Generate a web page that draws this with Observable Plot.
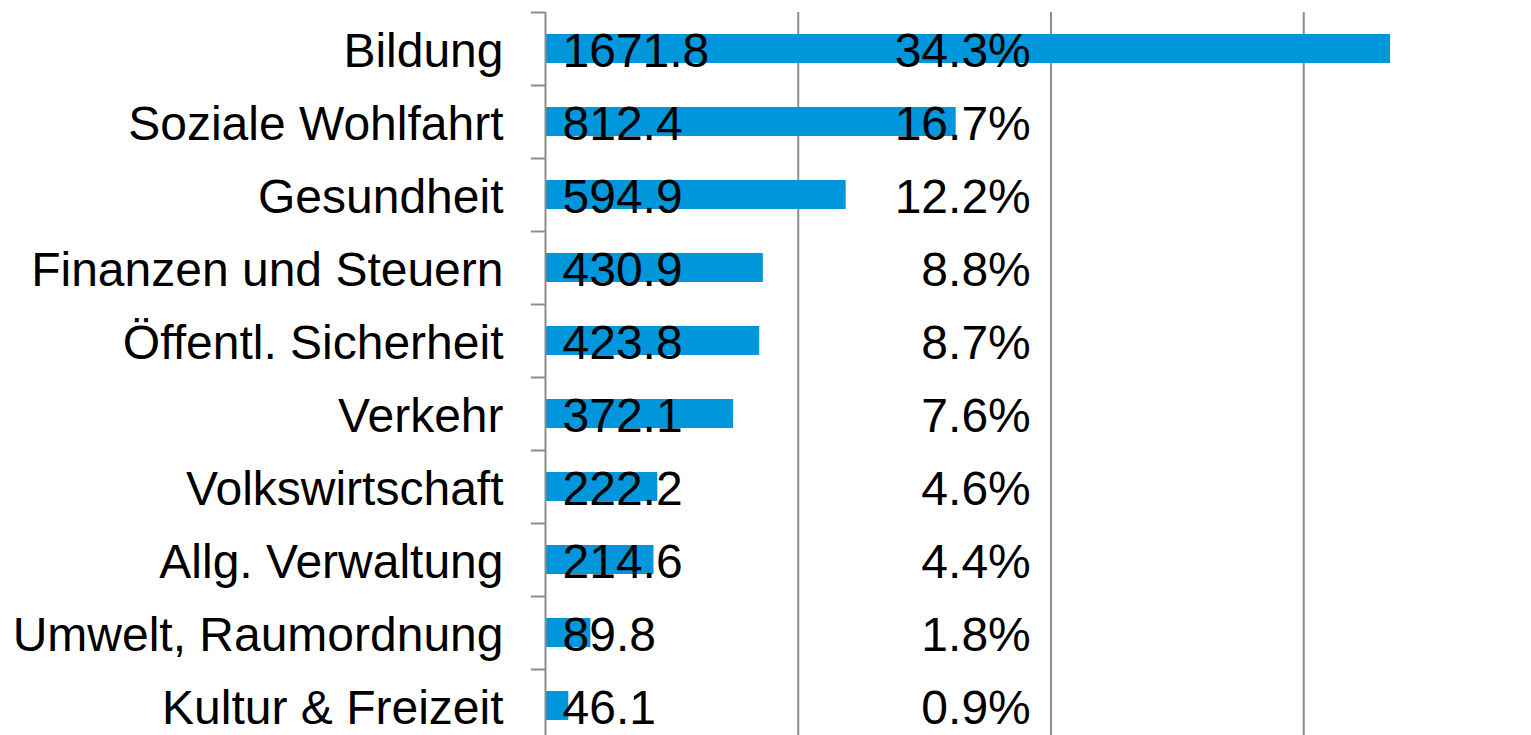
<!DOCTYPE html>
<html>
<head>
<meta charset="utf-8">
<script src="https://cdn.jsdelivr.net/npm/d3@7"></script>
<script src="https://cdn.jsdelivr.net/npm/@observablehq/plot@0.6"></script>
<style>
  html, body { margin: 0; padding: 0; background: #fff; }
  #chart svg { display: block; }
</style>
</head>
<body>
<div id="chart"></div>
<script>
const categories = ["Bildung", "Soziale Wohlfahrt", "Gesundheit", "Finanzen und Steuern", "Öffentl. Sicherheit", "Verkehr", "Volkswirtschaft", "Allg. Verwaltung", "Umwelt, Raumordnung", "Kultur & Freizeit"];
const values = [1671.8, 812.4, 594.9, 430.9, 423.8, 372.1, 222.2, 214.6, 89.8, 46.1];
const shares = [34.3, 16.7, 12.2, 8.8, 8.7, 7.6, 4.6, 4.4, 1.8, 0.9];
const xTicks = [500, 1000, 1500];

const data = categories.map((cat, i) => ({cat, value: values[i], share: shares[i]}));

const font = "'Liberation Sans', Arial, Helvetica, sans-serif";
const grey = "#8c8c8c";
const pctX = 960;
const fs = 48;

const chart = Plot.plot({
  width: 1531,
  height: 735,
  marginLeft: 545,
  marginRight: 0,
  marginTop: 12,
  marginBottom: 0,
  style: {fontFamily: font, fontSize: fs + "px", background: "#fff", color: "#000"},
  x: {domain: [0, 2000], range: [545, 1556], axis: null},
  y: {domain: categories, range: [12, 742], paddingInner: 0.6, paddingOuter: 0.3, axis: null},
  marks: [
    Plot.gridX(xTicks, {stroke: grey, strokeOpacity: 1, strokeWidth: 2}),
    Plot.barX(data, {x: "value", y: "cat", fill: "#0096DB"}),
    Plot.ruleX([0], {stroke: grey, strokeWidth: 2}),
    Plot.ruleY(data, {y: "cat", x1: -28, x2: 0, dy: -36.5, stroke: grey, strokeWidth: 2}),
    Plot.text(data, {x: 0, y: "cat", text: d => d.value.toFixed(1), textAnchor: "start", dx: 17, dy: 3, fontSize: fs, fill: "#000"}),
    Plot.text(data, {x: pctX, y: "cat", text: d => d.share.toFixed(1) + "%", textAnchor: "end", dy: 3, fontSize: fs, fill: "#000"}),
    Plot.text(data, {x: 0, y: "cat", text: "cat", textAnchor: "end", dx: -42, dy: 3, fontSize: fs, fill: "#000"})
  ]
});
document.getElementById("chart").appendChild(chart);
</script>
</body>
</html>
